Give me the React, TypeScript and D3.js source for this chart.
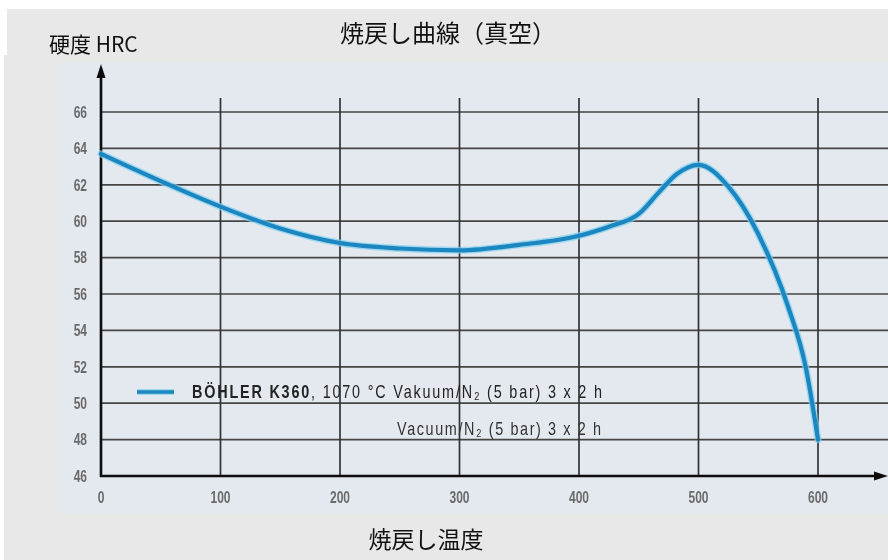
import React from "react";
import * as d3 from "d3";

// Tempering curve: hardness (HRC) against tempering temperature (°C)
const temperatures = [0, 50, 100, 150, 200, 250, 300, 350, 400, 425, 450, 467, 482, 500, 525, 550, 575, 590, 600];
const hardness = [63.7, 62.2, 60.8, 59.6, 58.8, 58.5, 58.4, 58.7, 59.2, 59.7, 60.4, 61.6, 62.6, 63.1, 61.9, 59.3, 55.3, 51.9, 48.0];

const xTicks = [0, 100, 200, 300, 400, 500, 600];
const yTicks = [46, 48, 50, 52, 54, 56, 58, 60, 62, 64, 66];

const title = "焼戻し曲線（真空）";
const yTitle = "硬度 HRC";
const xTitle = "焼戻し温度";
const legendBold = "BÖHLER K360";
const legendRest = ", 1070 °C Vakuum/N₂ (5 bar) 3 x 2 h";
const legendLine2 = "Vacuum/N₂ (5 bar) 3 x 2 h";

const W = 888;
const H = 560;

const sans = "'Liberation Sans',Arial,sans-serif";
const cjk = "'Noto Sans CJK JP','Noto Sans',sans-serif";
const tickSqueeze = 0.75;
const legendSqueeze = 0.8;

export default function App() {
  const x = d3.scaleLinear().domain([0, 600]).range([101, 818]);
  const y = d3.scaleLinear().domain([46, 66]).range([476, 112]);

  const points: [number, number][] = temperatures.map((t, i) => [t, hardness[i]]);
  const line = d3
    .line<[number, number]>()
    .x((d) => x(d[0]))
    .y((d) => y(d[1]))
    .curve(d3.curveMonotoneX);
  const path = line(points) || "";

  const axisY = y(46);
  const axisX = x(0);

  return (
    <svg
      width={W}
      height={H}
      style={{ position: "absolute", left: 0, top: 0, display: "block" }}
    >
      <defs>
        <filter id="soft" x="-5%" y="-5%" width="110%" height="110%">
          <feGaussianBlur stdDeviation="0.45" />
        </filter>
      </defs>
      {/* page background */}
      <rect x={0} y={0} width={W} height={H} fill="#ffffff" />
      <rect x={7} y={9} width={W - 7} height={50} fill="#e8e8e8" />
      <rect x={4} y={55} width={W - 4} height={H - 55} fill="#e8e8e8" />

      {/* plot panel */}
      <rect x={58} y={63} width={W - 58} height={450} fill="#e4e9ef" />

      <g filter="url(#soft)">
        {/* horizontal grid */}
        {yTicks
          .filter((v) => v !== 46)
          .map((v) => (
            <line
              key={"h" + v}
              x1={axisX}
              x2={W}
              y1={y(v)}
              y2={y(v)}
              stroke="#444"
              strokeWidth={1.7}
            />
          ))}
        {/* vertical grid */}
        {xTicks
          .filter((v) => v !== 0)
          .map((v) => (
            <line
              key={"v" + v}
              x1={x(v)}
              x2={x(v)}
              y1={98}
              y2={axisY}
              stroke="#333"
              strokeWidth={1.7}
            />
          ))}

        {/* axes with arrows */}
        <line x1={axisX} x2={axisX} y1={axisY + 1} y2={72} stroke="#111" strokeWidth={2.6} />
        <path d={`M${axisX},64 L${axisX - 4.5},78 L${axisX + 4.5},78 Z`} fill="#111" />
        <line x1={axisX - 1} x2={878} y1={axisY} y2={axisY} stroke="#111" strokeWidth={2.6} />
        <path d={`M888,${axisY} L874,${axisY - 4.5} L874,${axisY + 4.5} Z`} fill="#111" />

        {/* y tick labels */}
        {yTicks.map((v) => (
          <text
            key={"yl" + v}
            transform={`translate(87,${y(v)}) scale(${tickSqueeze},1)`}
            dy="0.36em"
            textAnchor="end"
            fontFamily={sans}
            fontWeight="bold"
            fontSize={16}
            fill="#6a6a6a"
          >
            {v}
          </text>
        ))}
        {/* x tick labels */}
        {xTicks.map((v) => (
          <text
            key={"xl" + v}
            transform={`translate(${x(v)},497) scale(${tickSqueeze},1)`}
            dy="0.36em"
            textAnchor="middle"
            fontFamily={sans}
            fontWeight="bold"
            fontSize={16}
            fill="#6a6a6a"
          >
            {v}
          </text>
        ))}

        {/* curve */}
        <path d={path} fill="none" stroke="#7fd0f0" strokeWidth={7} strokeLinecap="round" opacity={0.7} />
        <path d={path} fill="none" stroke="#1c86c0" strokeWidth={4.2} strokeLinecap="round" />

        {/* legend */}
        <line x1={137} x2={174} y1={392} y2={392} stroke="#7fd0f0" strokeWidth={6} opacity={0.7} />
        <line x1={137} x2={174} y1={392} y2={392} stroke="#1c86c0" strokeWidth={3.6} />
        <text
          transform={`translate(192,398) scale(${legendSqueeze},1)`}
          fontFamily={sans}
          fontSize={18}
          fill="#222"
          textLength={410 / legendSqueeze}
          lengthAdjust="spacing"
        >
          <tspan fontWeight="bold">{legendBold}</tspan>
          <tspan>{legendRest}</tspan>
        </text>
        <text
          transform={`translate(397,435) scale(${legendSqueeze},1)`}
          fontFamily={sans}
          fontSize={18}
          fill="#333"
          textLength={204 / legendSqueeze}
          lengthAdjust="spacing"
        >
          {legendLine2}
        </text>
      </g>

      {/* titles */}
      <text x={448} y={42} textAnchor="middle" fontFamily={cjk} fontSize={24} fill="#111">
        {title}
      </text>
      <text x={49} y={52} fontFamily={cjk} fontSize={21} fill="#111">
        {yTitle}
      </text>
      <text x={426} y={548} textAnchor="middle" fontFamily={cjk} fontSize={23} fill="#111">
        {xTitle}
      </text>
    </svg>
  );
}
